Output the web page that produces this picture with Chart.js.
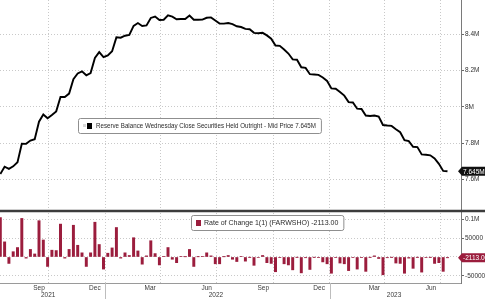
<!DOCTYPE html>
<html>
<head>
<meta charset="utf-8">
<script src="https://cdn.jsdelivr.net/npm/chart.js@4.4.1/dist/chart.umd.min.js"></script>
<style>
  html, body { margin: 0; padding: 0; background: #fff; }
  #wrap { width: 485px; height: 299px; }
</style>
</head>
<body>
<div id="wrap"><canvas id="chart" width="485" height="299"></canvas></div>
<script>
// weekly (Wednesday) observations
const weeks = [
  '2021-07-14','2021-07-21','2021-07-28','2021-08-04','2021-08-11','2021-08-18','2021-08-25',
  '2021-09-01','2021-09-08','2021-09-15','2021-09-22','2021-09-29','2021-10-06','2021-10-13',
  '2021-10-20','2021-10-27','2021-11-03','2021-11-10','2021-11-17','2021-11-24','2021-12-01',
  '2021-12-08','2021-12-15','2021-12-22','2021-12-29',
  '2022-01-05','2022-01-12','2022-01-19','2022-01-26','2022-02-02','2022-02-09','2022-02-16',
  '2022-02-23','2022-03-02','2022-03-09','2022-03-16','2022-03-23','2022-03-30','2022-04-06',
  '2022-04-13','2022-04-20','2022-04-27','2022-05-04','2022-05-11','2022-05-18','2022-05-25',
  '2022-06-01','2022-06-08','2022-06-15','2022-06-22','2022-06-29','2022-07-06','2022-07-13',
  '2022-07-20','2022-07-27','2022-08-03','2022-08-10','2022-08-17','2022-08-24','2022-08-31',
  '2022-09-07','2022-09-14','2022-09-21','2022-09-28','2022-10-05','2022-10-12','2022-10-19',
  '2022-10-26','2022-11-02','2022-11-09','2022-11-16','2022-11-23','2022-11-30','2022-12-07',
  '2022-12-14','2022-12-21','2022-12-28',
  '2023-01-04','2023-01-11','2023-01-18','2023-01-25','2023-02-01','2023-02-08','2023-02-15',
  '2023-02-22','2023-03-01','2023-03-08','2023-03-15','2023-03-22','2023-03-29','2023-04-05',
  '2023-04-12','2023-04-19','2023-04-26','2023-05-03','2023-05-10','2023-05-17','2023-05-24',
  '2023-05-31','2023-06-07','2023-06-14','2023-06-21','2023-06-28','2023-07-05','2023-07-12'
]

// securities held outright, in M (millions of $ millions)
const holdings = [
  7.630, 7.670, 7.658, 7.672, 7.695, 7.797, 7.796, 7.814, 7.822, 7.918,
  7.958, 7.937, 7.955, 7.975, 8.055, 8.054, 8.073, 8.152, 8.184, 8.196,
  8.174, 8.186, 8.270, 8.302, 8.274, 8.284, 8.307, 8.383, 8.381, 8.392,
  8.397, 8.446, 8.462, 8.446, 8.449, 8.490, 8.498, 8.479, 8.480, 8.504,
  8.497, 8.483, 8.484, 8.484, 8.503, 8.480, 8.480, 8.481, 8.491, 8.493,
  8.476, 8.459, 8.459, 8.462, 8.456, 8.444, 8.440, 8.430, 8.428, 8.408,
  8.406, 8.408, 8.394, 8.376, 8.338, 8.336, 8.316, 8.294, 8.262, 8.260,
  8.218, 8.215, 8.180, 8.178, 8.176, 8.162, 8.143, 8.102, 8.100, 8.082,
  8.062, 8.026, 8.024, 7.990, 7.988, 7.952, 7.950, 7.952, 7.946, 7.900,
  7.897, 7.895, 7.877, 7.860, 7.816, 7.811, 7.780, 7.778, 7.738, 7.736,
  7.733, 7.716, 7.686, 7.647, 7.645
]

// week-on-week change (FARWSHO)
const weeklyChange = [
  104000, 40000, -17000, 14000, 25000, 102000, -3000, 20000, 8000, 96000,
  45000, -25000, 18000, 17000, 87000, -3000, 20000, 84000, 31000, 11000,
  -25000, 11000, 92000, 33000, -32000, 10000, 24000, 78000, -3000, 11000,
  4000, 51000, 16000, -19000, 3000, 43000, 9000, -21000, 1000, 25000,
  -6000, -15000, 1000, 500, 20000, -25000, 500, 1000, 11000, 3000,
  -18000, -18000, 500, 4000, -6000, -12000, 1000, -11000, -500, -22000,
  -1500, 4000, -15000, -17000, -39000, -1000, -18000, -21000, -34000, -500,
  -42000, -2000, -33000, -500, -1000, -13000, -18000, -43000, -1000, -16000,
  -18000, -36000, -1000, -32000, -1000, -38000, -500, 3000, -4000, -47000,
  -2000, -500, -16000, -17000, -43000, -3000, -30000, -500, -40000, -1000,
  -500, -17000, -15000, -38000, -2113
]

const holdingsLabel = 'Reserve Balance Wednesday Close Securities Held Outright - Mid Price'
const changeLabel = 'Rate of Change 1(1) (FARWSHO)'

const topTicks = [7.6, 7.8, 8.0, 8.2, 8.4]
const bottomTicks = [-50000, 0, 50000, 100000]

const monthLabels = ['Sep', 'Dec', 'Mar', 'Jun', 'Sep', 'Dec', 'Mar', 'Jun']
const monthDates = ['2021-09-15', '2021-12-15', '2022-03-15', '2022-06-15',
                    '2022-09-15', '2022-12-15', '2023-03-15', '2023-06-15']
const yearLabels = ['2021', '2022', '2023']
const yearDates = ['2021-09-30', '2022-06-30', '2023-04-16']
const quarterDates = ['2021-10-01', '2022-01-01', '2022-04-01', '2022-07-01',
                      '2022-10-01', '2023-01-01', '2023-04-01', '2023-07-01']
const yearStarts = ['2022-01-01', '2023-01-01']

const FONT = "'Liberation Sans', Arial, sans-serif"
const RED = '#9b1d3d'
const GRID = '#c9c9c9'

const day0 = Date.UTC(2021, 6, 14)
function dayNum(s) {
    const [y, m, d] = s.split('-').map(Number)
    return (Date.UTC(y, m - 1, d) - day0) / 86400000
}

// x ticks: quarter grid lines + month labels + year labels
const xTicks = []
quarterDates.forEach(d => xTicks.push({ value: dayNum(d), label: '', grid: true }))
monthDates.forEach((d, i) => xTicks.push({ value: dayNum(d), label: monthLabels[i], grid: false }))
yearDates.forEach((d, i) => xTicks.push({ value: dayNum(d), label: ['', yearLabels[i]], grid: false }))
xTicks.sort((a, b) => a.value - b.value)

const lineData = weeks.map((w, i) => ({ x: dayNum(w), y: holdings[i] }))
const barData = weeks.map((w, i) => ({ x: dayNum(w), y: weeklyChange[i] }))

function fmtTop(v) {
    return (Math.round(v * 10) / 10).toString() + 'M'
}
function fmtBottom(v) {
    if (v === 0) return ''
    if (Math.abs(v) >= 100000) return (v / 1000000) + 'M'
    return String(v)
}

function tag(ctx, x, y, text, color) {
    const h = 9
    ctx.save()
    ctx.fillStyle = color
    ctx.beginPath()
    ctx.moveTo(x - 3, y)
    ctx.lineTo(x + 1, y - h / 2)
    ctx.lineTo(485, y - h / 2)
    ctx.lineTo(485, y + h / 2)
    ctx.lineTo(x + 1, y + h / 2)
    ctx.closePath()
    ctx.fill()
    ctx.fillStyle = '#fff'
    ctx.font = '6.5px ' + FONT
    ctx.textBaseline = 'middle'
    ctx.textAlign = 'left'
    ctx.fillText(text, x + 2, y + 0.5)
    ctx.restore()
}

// squeeze: horizontal compression of the text, the terminal font is narrower
function legendBox(ctx, x, y, text, color, withGhost, squeeze) {
    ctx.save()
    ctx.font = '7px ' + FONT
    const tx = x + (withGhost ? 18 : 13)
    const w = tx - x + ctx.measureText(text).width * squeeze + 5
    const h = 15
    ctx.fillStyle = '#fff'
    ctx.strokeStyle = '#8f8f8f'
    ctx.lineWidth = 1
    ctx.beginPath()
    ctx.roundRect(x + 0.5, y + 0.5, w, h, 2)
    ctx.fill()
    ctx.stroke()
    let sx = x + 5
    if (withGhost) {
        ctx.fillStyle = '#d8d8d8'
        ctx.fillRect(sx, y + 6, 3, 3)
        sx += 4
    }
    ctx.fillStyle = color
    ctx.fillRect(sx, y + 5, 5, 6)
    ctx.fillStyle = '#2b2b2b'
    ctx.textBaseline = 'middle'
    ctx.textAlign = 'left'
    ctx.translate(tx, y + 8.5)
    ctx.scale(squeeze, 1)
    ctx.fillText(text, 0, 0)
    ctx.restore()
}

const overlay = {
    id: 'overlay',
    afterDraw(chart) {
        const ctx = chart.ctx
        const { x, y, y2 } = chart.scales
        const area = chart.chartArea

        // panel separator
        ctx.save()
        ctx.strokeStyle = '#3c3c3c'
        ctx.lineWidth = 2.5
        ctx.beginPath()
        ctx.moveTo(0, y2.top)
        ctx.lineTo(chart.width, y2.top)
        ctx.stroke()

        // year boundaries under the axis
        ctx.strokeStyle = '#bdbdbd'
        ctx.lineWidth = 1
        yearStarts.forEach(d => {
            const px = Math.round(x.getPixelForValue(dayNum(d))) + 0.5
            ctx.beginPath()
            ctx.moveTo(px, area.bottom)
            ctx.lineTo(px, chart.height)
            ctx.stroke()
        })
        ctx.restore()

        const last = holdings.length - 1
        legendBox(ctx, 78, 118, holdingsLabel + ' ' + holdings[last].toFixed(3) + 'M', '#000', true, 0.885)
        legendBox(ctx, 191, 215, changeLabel + ' ' + weeklyChange[last].toFixed(2), RED, false, 1)

        tag(ctx, y.left, y.getPixelForValue(holdings[last]), holdings[last].toFixed(3) + 'M', '#111')
        tag(ctx, y2.left, y2.getPixelForValue(weeklyChange[last]), weeklyChange[last].toFixed(2), RED)
    }
}

const tickFont = { family: FONT, size: 6.5 }

const config = {
    type: 'bar',
    data: {
        datasets: [{
            type: 'line',
            label: holdingsLabel,
            data: lineData,
            yAxisID: 'y',
            borderColor: '#000',
            borderWidth: 1.9,
            pointRadius: 0,
            tension: 0,
            fill: false
        }, {
            type: 'bar',
            label: changeLabel,
            data: barData,
            yAxisID: 'y2',
            backgroundColor: RED,
            borderWidth: 0,
            barThickness: 2.3
        }]
    },
    options: {
        responsive: false,
        animation: false,
        events: [],
        layout: { padding: 0 },
        plugins: {
            legend: { display: false },
            tooltip: { enabled: false }
        },
        scales: {
            x: {
                type: 'linear',
                position: 'bottom',
                min: -0.5,
                max: 750,
                offset: false,
                grid: {
                    offset: false,
                    drawTicks: false,
                    color: c => (c.tick && xTicks.find(t => t.value === c.tick.value && t.grid)) ? GRID : 'rgba(0,0,0,0)'
                },
                border: { color: '#9a9a9a', dash: [1, 2] },
                ticks: {
                    font: tickFont,
                    color: '#3a3a3a',
                    padding: 1,
                    autoSkip: false,
                    maxRotation: 0,
                    minRotation: 0,
                    callback: v => {
                        const t = xTicks.find(t => t.value === v)
                        return t ? t.label : ''
                    }
                },
                afterBuildTicks: s => { s.ticks = xTicks.map(t => ({ value: t.value })) },
                afterFit: s => { s.height = 16; s.paddingLeft = 0; s.paddingRight = 0 }
            },
            y: {
                type: 'linear',
                position: 'right',
                stack: 'panels',
                stackWeight: 2.93,
                min: 7.426,
                max: 8.589,
                grid: { color: GRID, tickLength: 3, tickColor: '#666' },
                border: { color: '#7a7a7a', dash: [1, 2] },
                ticks: { font: tickFont, color: '#333', padding: 1, callback: v => fmtTop(v) },
                afterBuildTicks: s => { s.ticks = topTicks.map(v => ({ value: v })) },
                afterFit: s => { s.width = 24; s.paddingTop = 0; s.paddingBottom = 0 }
            },
            y2: {
                type: 'linear',
                position: 'right',
                stack: 'panels',
                stackWeight: 1,
                min: -68800,
                max: 121700,
                grid: { color: GRID, tickLength: 3, tickColor: '#666' },
                border: { color: '#7a7a7a', dash: [1, 2] },
                ticks: { font: tickFont, color: '#333', padding: 1, callback: v => fmtBottom(v) },
                afterBuildTicks: s => { s.ticks = bottomTicks.map(v => ({ value: v })) },
                afterFit: s => { s.width = 24; s.paddingTop = 0; s.paddingBottom = 0 }
            }
        }
    },
    plugins: [overlay]
}

const chart = new Chart(document.getElementById('chart'), config)
</script>
</body>
</html>
